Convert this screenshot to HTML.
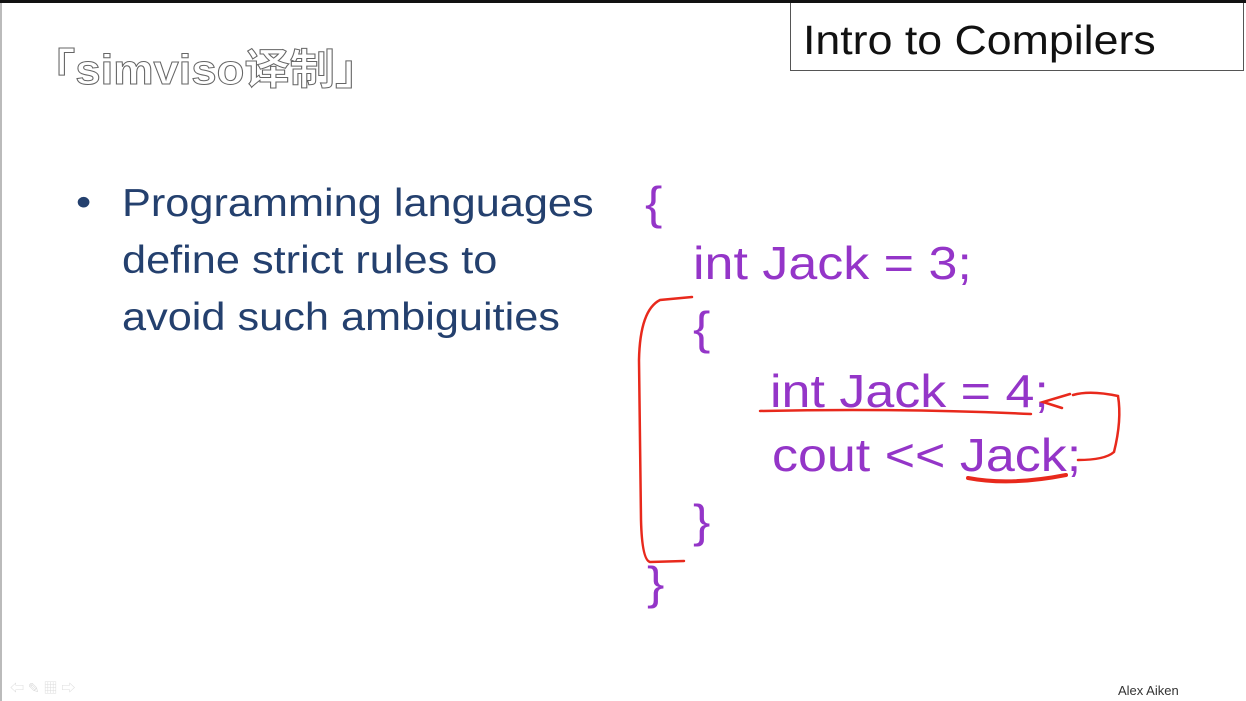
<!DOCTYPE html>
<html><head><meta charset="utf-8"><style>
html,body{margin:0;padding:0}
body{width:1246px;height:701px;background:#fff;position:relative;overflow:hidden;font-family:"Liberation Sans","Noto Sans CJK SC",sans-serif}
.a{position:absolute;white-space:nowrap;transform-origin:0 0}
.code{color:#9435c8;font-size:46px;line-height:1;transform:scaleX(1.13)}
.bl{color:#24406e;font-size:39px;line-height:1;transform:scaleX(1.11)}
</style></head><body>
<div class="a" style="left:0;top:0;width:1246px;height:3px;background:#111"></div>
<div class="a" style="left:0;top:3px;width:2px;height:698px;background:#bbb"></div>
<div class="a" style="left:790px;top:3px;width:454px;height:68px;border:1px solid #555;border-top:none;box-sizing:border-box"></div>
<div class="a" style="left:803px;top:17px;font-size:41px;color:#111;transform:scaleX(1.09)">Intro to Compilers</div>
<div class="a" style="left:30px;top:36px;font-size:42px;font-weight:bold;color:#fff;-webkit-text-stroke:1px #666;transform:scaleX(1.08)">「simviso译制」</div>
<div class="a bl" style="left:76px;top:183px">•</div>
<div class="a bl" style="left:122px;top:184px">Programming languages</div>
<div class="a bl" style="left:122px;top:241px">define strict rules to</div>
<div class="a bl" style="left:122px;top:298px">avoid such ambiguities</div>
<div class="a code" style="left:645px;top:180px">{</div>
<div class="a code" style="left:693px;top:240px">int Jack = 3;</div>
<div class="a code" style="left:693px;top:305px">{</div>
<div class="a code" style="left:770px;top:368px">int Jack = 4;</div>
<div class="a code" style="left:772px;top:432px">cout &lt;&lt; Jack;</div>
<div class="a code" style="left:693px;top:498px">}</div>
<div class="a code" style="left:647px;top:560px">}</div>
<svg class="a" style="left:0;top:0" width="1246" height="701">
<g fill="none" stroke="#e8291c" stroke-width="2.5" stroke-linecap="round">
<path d="M692 297 L660 300 Q640 310 639 360 L641 520 Q642 560 650 562 L684 561"/>
<path d="M760 411 Q900 408 1031 414"/>
<path d="M1073 395 Q1090 390 1118 396 Q1122 420 1114 452 Q1105 460 1078 460"/>
<path d="M1070 394 L1043 402 L1062 408"/>
<path d="M968 478 Q1010 486 1066 475" stroke-width="4"/>
</g>
</svg>
<div class="a" style="left:1118px;top:683px;font-size:13px;color:#333">Alex Aiken</div>
<div class="a" style="left:10px;top:678px;font-size:14px;color:#ddd">⇦ ✎ ▦ ⇨</div>
</body></html>
